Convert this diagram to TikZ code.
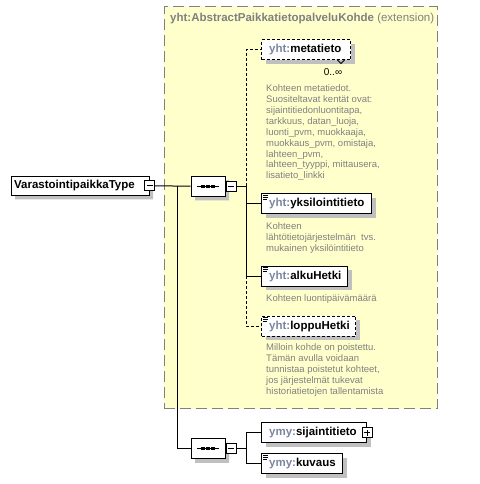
\documentclass[tikz,border=0pt]{standalone}
\usepackage{fontspec}
\setmainfont{Liberation Sans}
\usetikzlibrary{shapes.misc,shadows}
\definecolor{yel}{RGB}{255,255,204}
\definecolor{bord}{RGB}{128,128,128}
\definecolor{pfxc}{RGB}{122,134,160}
\definecolor{descc}{RGB}{128,128,128}
\definecolor{shd}{RGB}{192,192,192}
\newcommand\pf[1]{\textcolor{pfxc}{#1}}
\begin{document}
\begin{tikzpicture}[x=1pt,y=-1pt,
  shadowed/.style={general shadow={fill=shd, shadow xshift=4pt, shadow yshift=-4pt}},
  elem/.style={draw, fill=white, line width=1pt, minimum height=20pt, inner sep=0pt, anchor=north west, shadowed},
  optelem/.style={elem, dash pattern=on 3pt off 2pt},
  lbl/.style={font=\fontsize{11.5}{13}\selectfont\bfseries, inner sep=0pt, anchor=west},
  desc/.style={font=\fontsize{9.5}{10.9}\selectfont, text=descc, align=left, anchor=north west, inner sep=0pt},
  seqbox/.style={chamfered rectangle, chamfered rectangle xsep=6pt, draw, fill=white, line width=1pt, minimum width=34pt, minimum height=20pt, inner sep=0pt, anchor=north west, shadowed},
  ctrl/.style={draw, fill=white, line width=0.8pt, minimum size=10pt, inner sep=0pt},
  conn/.style={line width=1pt},
  optconn/.style={line width=1pt, dash pattern=on 3pt off 2pt},
  iconline/.style={line width=0.8pt}
]
\useasboundingbox (0,0) rectangle (479,484);
% extension box
\node[draw=bord, fill=yel, line width=1.3pt, dash pattern=on 11pt off 5pt, minimum width=273pt, minimum height=402pt, inner sep=0pt, anchor=north west] (ext) at (163.5,6) {};
\node[font=\fontsize{11.5}{13}\selectfont, text=bord, inner sep=0pt, anchor=west] (extT) at (170,19) {\textbf{yht:AbstractPaikkatietopalveluKohde} (extension)};

% root
\node[chamfered rectangle, chamfered rectangle xsep=3pt, draw, fill=white, line width=1pt, minimum width=138pt, minimum height=19pt, inner sep=0pt, anchor=north west, shadowed] (root) at (11,176) {};
\node[lbl] (rootT) at ([xshift=3.5pt]root.west) {VarastointipaikkaType};
\node[ctrl] (rootm) at (root.east) {};
\draw[line width=0.8pt] ([xshift=-3pt]rootm.center) -- ([xshift=3pt]rootm.center);

% sequence 1
\node[seqbox] (seq1) at (191,176) {};
\draw[conn] ([xshift=-11pt]seq1.center) -- ([xshift=11pt]seq1.center);
\foreach \d in {-5,0,5} \fill ([xshift=\d pt]seq1.center) +(-1.7,-1.7) rectangle +(1.7,1.7);
\node[ctrl, anchor=west] (seq1m) at (seq1.east) {};
\draw[line width=0.8pt] ([xshift=-3pt]seq1m.center) -- ([xshift=3pt]seq1m.center);

% sequence 2
\node[seqbox] (seq2) at (191,438.5) {};
\draw[conn] ([xshift=-11pt]seq2.center) -- ([xshift=11pt]seq2.center);
\foreach \d in {-5,0,5} \fill ([xshift=\d pt]seq2.center) +(-1.7,-1.7) rectangle +(1.7,1.7);
\node[ctrl, anchor=west] (seq2m) at (seq2.east) {};
\draw[line width=0.8pt] ([xshift=-3pt]seq2m.center) -- ([xshift=3pt]seq2m.center);

% elements
\node[optelem, minimum width=89pt] (meta) at (261,39.5) {};
\node[lbl] (metaT) at ([xshift=8pt]meta.west) {\pf{yht:}metatieto};
\draw[line width=0.8pt] (337,59.5) -- (341,63.5) -- (345,59.5);
\node[font=\fontsize{10}{12}\selectfont, inner sep=0pt] (metaM) at (333,72) {0..∞};
\node[desc] (metaD) at (266,84.6) {Kohteen metatiedot.\\Suositeltavat kentät ovat:\\sijaintitiedonluontitapa,\\tarkkuus, datan\_luoja,\\luonti\_pvm, muokkaaja,\\muokkaus\_pvm, omistaja,\\lahteen\_pvm,\\lahteen\_tyyppi, mittausera,\\lisatieto\_linkki};

\node[elem, minimum width=110pt] (yks) at (261,193) {};
\node[lbl] (yksT) at ([xshift=8pt,yshift=-0.5pt]yks.west) {\pf{yht:}yksilointitieto};
\node[desc] (yksD) at (266,222.6) {Kohteen\\lähtötietojärjestelmän\ \ tvs.\\mukainen yksilöintitieto};

\node[elem, minimum width=86pt] (alku) at (261,265.5) {};
\node[lbl] (alkuT) at ([xshift=8pt,yshift=-0.5pt]alku.west) {\pf{yht:}alkuHetki};
\node[desc] (alkuD) at (266,294.6) {Kohteen luontipäivämäärä};

\node[optelem, minimum width=94pt] (loppu) at (261,315.5) {};
\node[lbl] (loppuT) at ([xshift=8pt,yshift=-0.5pt]loppu.west) {\pf{yht:}loppuHetki};
\node[desc] (loppuD) at (266,343.6) {Milloin kohde on poistettu.\\Tämän avulla voidaan\\tunnistaa poistetut kohteet,\\jos järjestelmät tukevat\\historiatietojen tallentamista};

\node[elem, minimum width=105pt] (sij) at (261,422) {};
\node[lbl] (sijT) at ([xshift=8pt]sij.west) {\pf{ymy:}sijaintitieto};
\node[ctrl] (sijp) at (sij.east) {};
\draw[line width=0.8pt] ([xshift=-3pt]sijp.center) -- ([xshift=3pt]sijp.center) ([yshift=-3pt]sijp.center) -- ([yshift=3pt]sijp.center);

\node[elem, minimum width=81pt] (kuv) at (261,453) {};
\node[lbl] (kuvT) at ([xshift=8pt,yshift=-0.5pt]kuv.west) {\pf{ymy:}kuvaus};

% doc icons
\foreach \n in {yks,alku,loppu,kuv}{
  \draw[iconline] ([shift={(2,2.3)}]\n.north west) -- ++(5,0);
  \draw[iconline] ([shift={(2,4.3)}]\n.north west) -- ++(5,0);
  \draw[iconline] ([shift={(2,6.3)}]\n.north west) -- ++(4,0);
}

% connectors
\coordinate (trunk) at (177,0);
\coordinate (bus1) at (246,0);
\draw[conn] (rootm.east) -- (seq1.west);
\draw[conn] (trunk |- rootm.east) |- (seq2.west);
\draw[conn] (seq1m.east) -- (bus1 |- seq1m.east);
\draw[optconn] (bus1 |- seq1m.east) |- (meta.west);
\draw[conn] (bus1 |- seq1m.east) |- (yks.west);
\draw[conn] (bus1 |- seq1m.east) |- (alku.west);
\draw[optconn] (bus1 |- alku.west) |- (loppu.west);
\draw[conn] (seq2m.east) -- (bus1 |- seq2m.east);
\draw[conn] (bus1 |- sij.west) |- (kuv.west);
\draw[conn] (bus1 |- sij.west) -- (sij.west);
\end{tikzpicture}
\end{document}
